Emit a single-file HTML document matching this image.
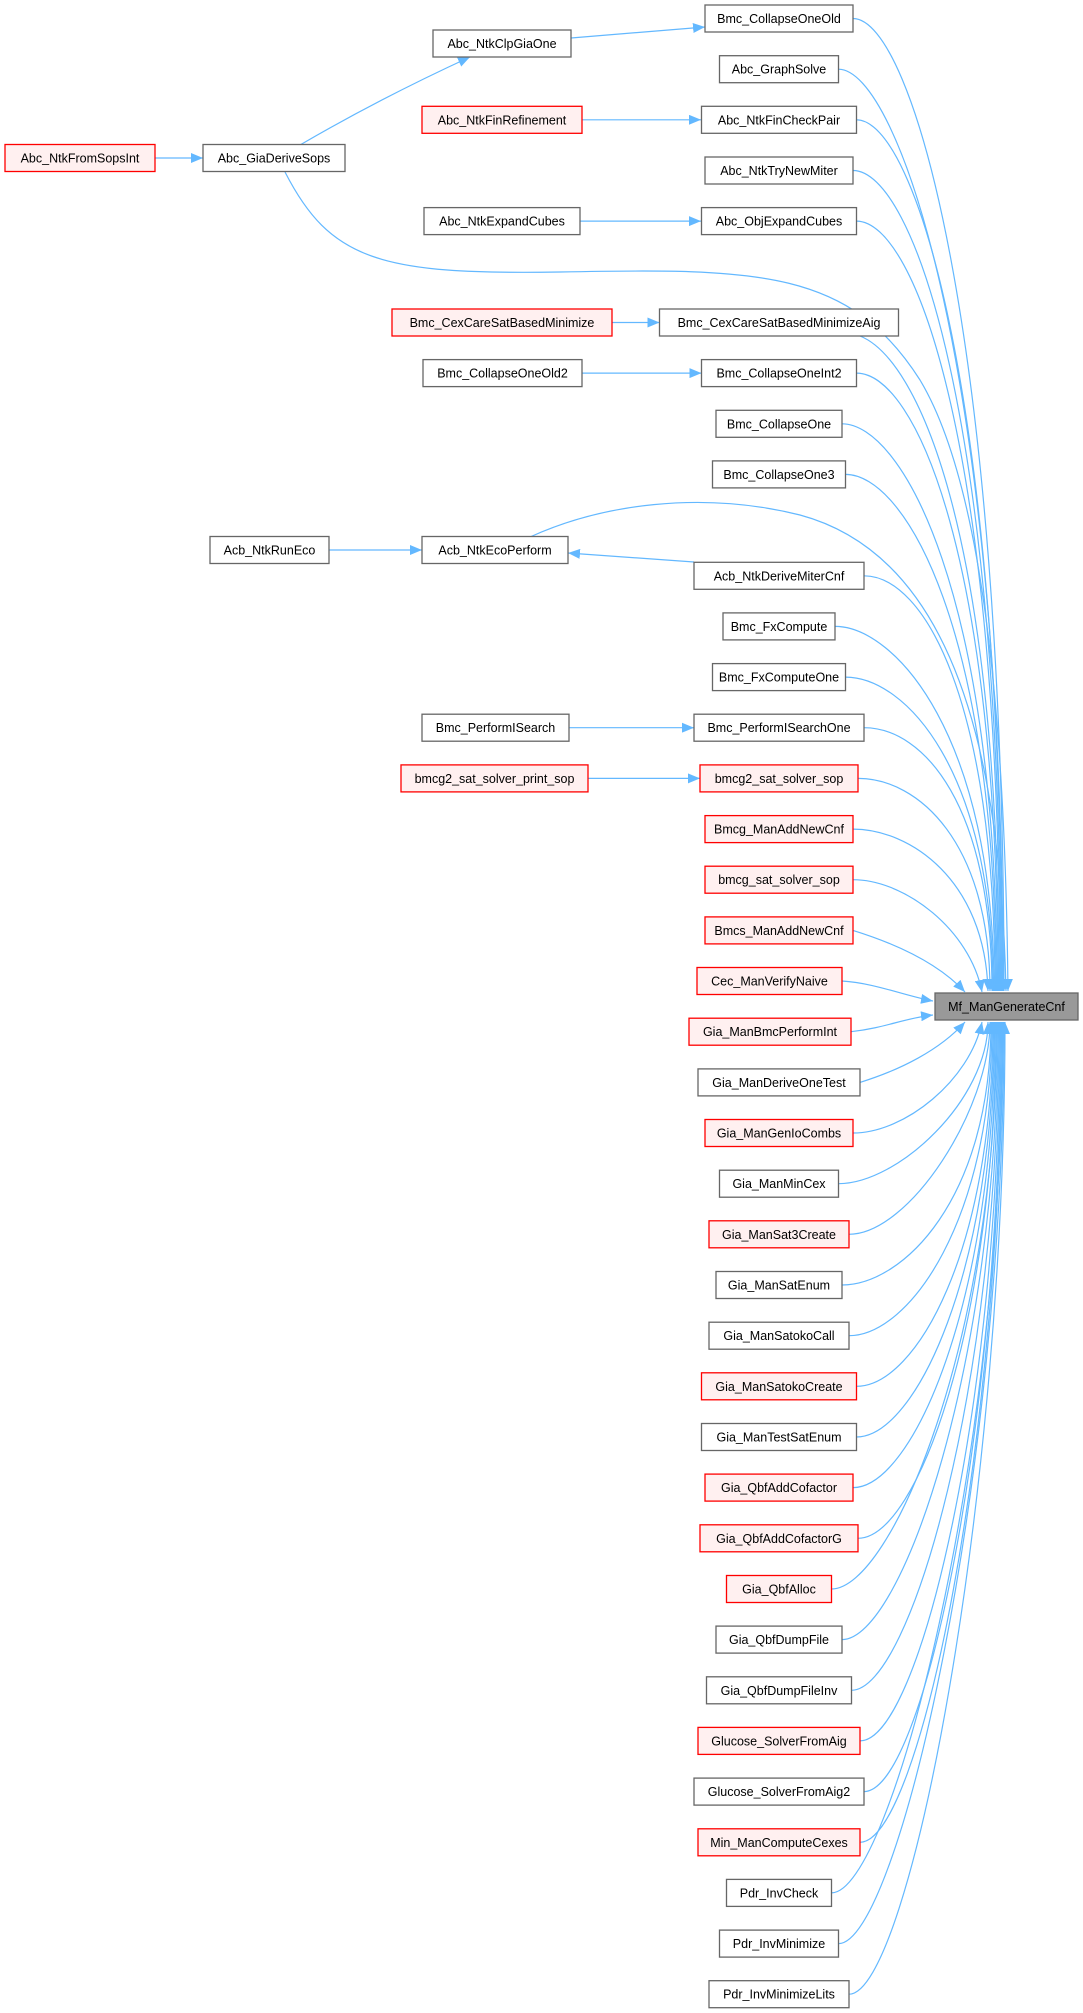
<!DOCTYPE html>
<html><head><meta charset="utf-8"><style>
html,body{margin:0;padding:0;background:#fff;}
svg{display:block}
text{font-family:"Liberation Sans",Arial,sans-serif;font-size:12.5px;fill:#000;text-anchor:middle}
.n{fill:#fff;stroke:#666;stroke-width:1.3}
.r{fill:#fff0f0;stroke:#f00;stroke-width:1.3}
.e{fill:none;stroke:#63b8ff;stroke-width:1.2}
</style></head><body>
<svg width="1083" height="2013" viewBox="0 0 1083 2013" xmlns="http://www.w3.org/2000/svg">
<defs><marker id="a" markerUnits="userSpaceOnUse" markerWidth="13" markerHeight="10" refX="12" refY="5" orient="auto"><path d="M0,0 L12,5 L0,10 z" fill="#63b8ff"/></marker></defs>
<g class="e" marker-end="url(#a)">
<path d="M853,18.5 C913,18.5 1004,338 1004,991"/>
<path d="M838.5,69.2 C898,69.2 1003,370 1003,991"/>
<path d="M856.5,119.8 C916,119.8 1002,400 1002,991"/>
<path d="M853,170.5 C913,170.5 1001,416 1001,991"/>
<path d="M856.5,221.1 C916,221.1 1000,450 1000,991"/>
<path d="M285,172 C330,260 380,275 560,272 C760,268 850,270 920,380 C980,480 1005,700 1008,991"/>
<path d="M860,336 C920,360 999,540 999,991"/>
<path d="M856.5,373.1 C916,373.1 998,560 998,991"/>
<path d="M842,423.8 C902,423.8 997,594 997,991"/>
<path d="M845.5,474.4 C905,474.4 996,630 996,991"/>
<path d="M530,537 C600,505 700,490 800,515 C930,550 1000,700 1006,991"/>
<path d="M864,575.8 C924,575.8 995,700 995,991"/>
<path d="M835,626.4 C895,626.4 994,736 994,991"/>
<path d="M845.5,677.1 C905,677.1 993,770 993,991"/>
<path d="M864,727.7 C924,727.7 992,806 992,991"/>
<path d="M858,778.4 C918,778.4 990,842 990,991"/>
<path d="M853,829.1 C910,829.1 985,880 988,991"/>
<path d="M853,879.7 C905,879.7 970,930 982,992"/>
<path d="M853,930.4 C900,945 940,965 965,992"/>
<path d="M842,981 C875,983 905,996 933,1001"/>
<path d="M851,1031.7 C885,1028 905,1018 933,1015"/>
<path d="M860,1082.4 C900,1070 940,1050 965,1022"/>
<path d="M853,1133 C905,1133 970,1080 982,1022"/>
<path d="M838.5,1183.7 C898,1183.7 988,1100 988,1022"/>
<path d="M849,1234.3 C909,1234.3 990,1110 990,1022"/>
<path d="M842,1285 C902,1285 991,1200 991,1022"/>
<path d="M849,1335.7 C909,1335.7 992,1220 992,1022"/>
<path d="M856.5,1386.3 C916,1386.3 993,1250 993,1022"/>
<path d="M856.5,1437 C916,1437 994,1270 994,1022"/>
<path d="M853,1487.6 C913,1487.6 995,1300 995,1022"/>
<path d="M858,1538.3 C918,1538.3 996,1320 996,1022"/>
<path d="M831.5,1589 C891,1589 997,1340 997,1022"/>
<path d="M842,1639.6 C902,1639.6 998,1360 998,1022"/>
<path d="M851.5,1690.3 C911,1690.3 999,1380 999,1022"/>
<path d="M860,1740.9 C920,1740.9 1000,1400 1000,1022"/>
<path d="M864,1791.6 C924,1791.6 1001,1420 1001,1022"/>
<path d="M860,1842.3 C920,1842.3 1002,1440 1002,1022"/>
<path d="M831.5,1892.9 C891,1892.9 1003,1460 1003,1022"/>
<path d="M838.5,1943.6 C898,1943.6 1004,1480 1004,1022"/>
<path d="M849,1994.2 C909,1994.2 1005,1500 1005,1022"/>
<path d="M155,158 L203,158"/>
<path d="M300,145 C360,110 420,80 470,57"/>
<path d="M571,38 L705,27"/>
<path d="M582,119.8 L701,119.8"/>
<path d="M580,221.1 L701,221.1"/>
<path d="M612,322.5 L659.5,322.5"/>
<path d="M582,373.1 L701.5,373.1"/>
<path d="M329,550 L422,550"/>
<path d="M694,562 L568,553"/>
<path d="M569,727.7 L694,727.7"/>
<path d="M588,778.4 L700,778.4"/>
</g>
<rect x="935" y="993" width="143" height="27" fill="#999" stroke="#666" stroke-width="1.3"/>
<text x="1006.5" y="1011">Mf_ManGenerateCnf</text>
<rect class="r" x="5" y="144.5" width="150" height="27"/><text x="80" y="162.5">Abc_NtkFromSopsInt</text>
<rect class="n" x="203" y="144.5" width="142" height="27"/><text x="274" y="162.5">Abc_GiaDeriveSops</text>
<rect class="n" x="433" y="30" width="138" height="27"/><text x="502" y="48">Abc_NtkClpGiaOne</text>
<rect class="r" x="422" y="106.3" width="160" height="27"/><text x="502" y="124.3">Abc_NtkFinRefinement</text>
<rect class="n" x="424" y="207.6" width="156" height="27"/><text x="502" y="225.6">Abc_NtkExpandCubes</text>
<rect class="r" x="392" y="309" width="220" height="27"/><text x="502" y="327">Bmc_CexCareSatBasedMinimize</text>
<rect class="n" x="423" y="359.6" width="159" height="27"/><text x="502.5" y="377.6">Bmc_CollapseOneOld2</text>
<rect class="n" x="210" y="536.5" width="119" height="27"/><text x="269.5" y="554.5">Acb_NtkRunEco</text>
<rect class="n" x="422" y="536.5" width="146" height="27"/><text x="495" y="554.5">Acb_NtkEcoPerform</text>
<rect class="n" x="422" y="714.2" width="147" height="27"/><text x="495.5" y="732.2">Bmc_PerformISearch</text>
<rect class="r" x="401" y="764.9" width="187" height="27"/><text x="494.5" y="782.9">bmcg2_sat_solver_print_sop</text>
<rect class="n" x="705" y="5" width="148" height="27"/><text x="779" y="23">Bmc_CollapseOneOld</text>
<rect class="n" x="719.5" y="55.7" width="119" height="27"/><text x="779" y="73.7">Abc_GraphSolve</text>
<rect class="n" x="701.5" y="106.3" width="155" height="27"/><text x="779" y="124.3">Abc_NtkFinCheckPair</text>
<rect class="n" x="705" y="157" width="148" height="27"/><text x="779" y="175">Abc_NtkTryNewMiter</text>
<rect class="n" x="701.5" y="207.6" width="155" height="27"/><text x="779" y="225.6">Abc_ObjExpandCubes</text>
<rect class="n" x="659.5" y="309" width="239" height="27"/><text x="779" y="327">Bmc_CexCareSatBasedMinimizeAig</text>
<rect class="n" x="701.5" y="359.6" width="155" height="27"/><text x="779" y="377.6">Bmc_CollapseOneInt2</text>
<rect class="n" x="716" y="410.3" width="126" height="27"/><text x="779" y="428.3">Bmc_CollapseOne</text>
<rect class="n" x="712.5" y="460.9" width="133" height="27"/><text x="779" y="478.9">Bmc_CollapseOne3</text>
<rect class="n" x="694" y="562.3" width="170" height="27"/><text x="779" y="580.3">Acb_NtkDeriveMiterCnf</text>
<rect class="n" x="723" y="612.9" width="112" height="27"/><text x="779" y="630.9">Bmc_FxCompute</text>
<rect class="n" x="712.5" y="663.6" width="133" height="27"/><text x="779" y="681.6">Bmc_FxComputeOne</text>
<rect class="n" x="694" y="714.2" width="170" height="27"/><text x="779" y="732.2">Bmc_PerformISearchOne</text>
<rect class="r" x="700" y="764.9" width="158" height="27"/><text x="779" y="782.9">bmcg2_sat_solver_sop</text>
<rect class="r" x="705" y="815.6" width="148" height="27"/><text x="779" y="833.6">Bmcg_ManAddNewCnf</text>
<rect class="r" x="705" y="866.2" width="148" height="27"/><text x="779" y="884.2">bmcg_sat_solver_sop</text>
<rect class="r" x="705" y="916.9" width="148" height="27"/><text x="779" y="934.9">Bmcs_ManAddNewCnf</text>
<rect class="r" x="697" y="967.5" width="145" height="27"/><text x="769.5" y="985.5">Cec_ManVerifyNaive</text>
<rect class="r" x="689" y="1018.2" width="162" height="27"/><text x="770" y="1036.2">Gia_ManBmcPerformInt</text>
<rect class="n" x="698" y="1068.9" width="162" height="27"/><text x="779" y="1086.9">Gia_ManDeriveOneTest</text>
<rect class="r" x="705" y="1119.5" width="148" height="27"/><text x="779" y="1137.5">Gia_ManGenIoCombs</text>
<rect class="n" x="719.5" y="1170.2" width="119" height="27"/><text x="779" y="1188.2">Gia_ManMinCex</text>
<rect class="r" x="709" y="1220.8" width="140" height="27"/><text x="779" y="1238.8">Gia_ManSat3Create</text>
<rect class="n" x="716" y="1271.5" width="126" height="27"/><text x="779" y="1289.5">Gia_ManSatEnum</text>
<rect class="n" x="709" y="1322.2" width="140" height="27"/><text x="779" y="1340.2">Gia_ManSatokoCall</text>
<rect class="r" x="701.5" y="1372.8" width="155" height="27"/><text x="779" y="1390.8">Gia_ManSatokoCreate</text>
<rect class="n" x="701.5" y="1423.5" width="155" height="27"/><text x="779" y="1441.5">Gia_ManTestSatEnum</text>
<rect class="r" x="705" y="1474.1" width="148" height="27"/><text x="779" y="1492.1">Gia_QbfAddCofactor</text>
<rect class="r" x="700" y="1524.8" width="158" height="27"/><text x="779" y="1542.8">Gia_QbfAddCofactorG</text>
<rect class="r" x="726.5" y="1575.5" width="105" height="27"/><text x="779" y="1593.5">Gia_QbfAlloc</text>
<rect class="n" x="716" y="1626.1" width="126" height="27"/><text x="779" y="1644.1">Gia_QbfDumpFile</text>
<rect class="n" x="706.5" y="1676.8" width="145" height="27"/><text x="779" y="1694.8">Gia_QbfDumpFileInv</text>
<rect class="r" x="698" y="1727.4" width="162" height="27"/><text x="779" y="1745.4">Glucose_SolverFromAig</text>
<rect class="n" x="694" y="1778.1" width="170" height="27"/><text x="779" y="1796.1">Glucose_SolverFromAig2</text>
<rect class="r" x="698" y="1828.8" width="162" height="27"/><text x="779" y="1846.8">Min_ManComputeCexes</text>
<rect class="n" x="726.5" y="1879.4" width="105" height="27"/><text x="779" y="1897.4">Pdr_InvCheck</text>
<rect class="n" x="719.5" y="1930.1" width="119" height="27"/><text x="779" y="1948.1">Pdr_InvMinimize</text>
<rect class="n" x="709" y="1980.7" width="140" height="27"/><text x="779" y="1998.7">Pdr_InvMinimizeLits</text>
</svg>
</body></html>
